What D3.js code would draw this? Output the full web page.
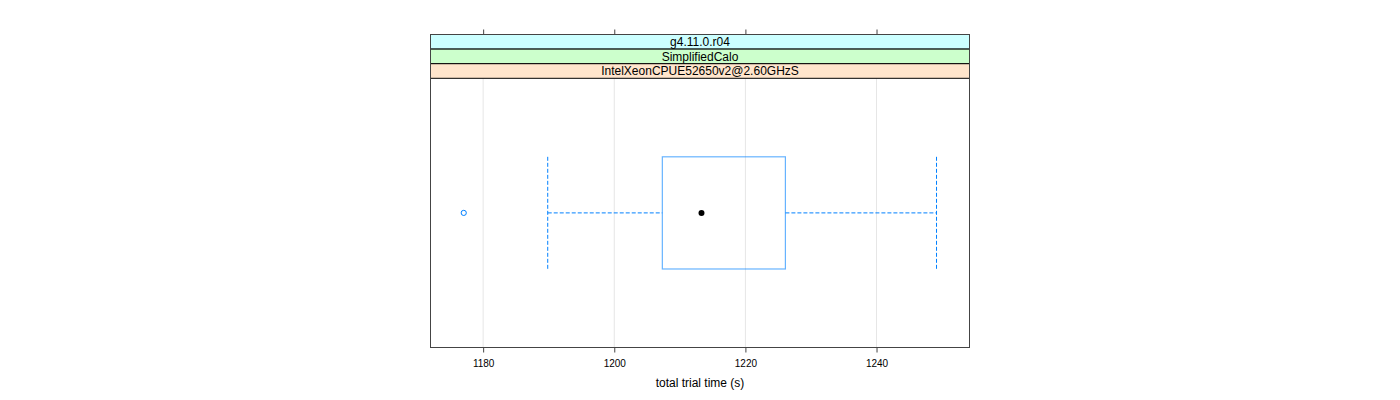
<!DOCTYPE html>
<html><head><meta charset="utf-8">
<script src="https://cdn.jsdelivr.net/npm/d3@7"></script>
<style>body{margin:0;background:#fff}svg{display:block}text{font-family:"Liberation Sans",Arial,sans-serif}</style>
</head><body>
<svg id="c" width="1400" height="400"></svg>
<script>
// data
const stripLabels = ["g4.11.0.r04", "SimplifiedCalo", "IntelXeonCPUE52650v2@2.60GHzS"];
const stripColors = ["#CCFFFF", "#CCFFCC", "#FFE5CC"];
const category = ["all"];
const lowerWhisker = [1189.85];
const q1 = [1207.33];
const median = [1213.3];
const q3 = [1226.1];
const upperWhisker = [1249.15];
const outliers = [1177.04];
const xTicks = [1180, 1200, 1220, 1240];
const xDomain = [1171.97, 1254.18];
const xLabel = "total trial time (s)";

(function () {
const svg = d3.select("#c");
const L = 430.5, R = 969.5, T = 34.5, B = 347.5;
const stripH = 14.6;
const bodyTop = T + stripH * stripLabels.length;
const x = d3.scaleLinear().domain(xDomain).range([L, R]);
const y = d3.scaleBand().domain(category).range([bodyTop, B]).paddingInner(0).paddingOuter(0.7);

// grid
svg.append("g").selectAll("line").data(xTicks).join("line")
  .attr("x1", d => x(d)).attr("x2", d => x(d)).attr("y1", bodyTop).attr("y2", B)
  .attr("stroke", "#e6e6e6").attr("stroke-width", 1);

// strips
stripLabels.forEach((s, i) => {
  const yy = T + i * stripH;
  svg.append("rect").attr("x", L).attr("y", yy).attr("width", R - L).attr("height", stripH)
    .attr("fill", stripColors[i]).attr("stroke", "#000").attr("stroke-width", 1);
  svg.append("text").attr("x", (L + R) / 2).attr("y", yy + stripH / 2 + 4.3)
    .attr("text-anchor", "middle").attr("font-size", 12).attr("fill", "#000").text(s);
});

// boxes
const g = svg.append("g");
category.forEach((c, i) => {
  const y0 = y(c), bh = y.bandwidth(), ym = y0 + bh / 2;
  g.append("line").attr("x1", x(lowerWhisker[i])).attr("x2", x(q1[i])).attr("y1", ym).attr("y2", ym)
    .attr("stroke", "#0080ff").attr("stroke-dasharray", "4,2").attr("stroke-width", 1);
  g.append("line").attr("x1", x(q3[i])).attr("x2", x(upperWhisker[i])).attr("y1", ym).attr("y2", ym)
    .attr("stroke", "#0080ff").attr("stroke-dasharray", "4,2").attr("stroke-width", 1);
  [lowerWhisker[i], upperWhisker[i]].forEach(v => {
    g.append("line").attr("x1", x(v)).attr("x2", x(v)).attr("y1", y0).attr("y2", y0 + bh)
      .attr("stroke", "#0080ff").attr("stroke-dasharray", "4,2").attr("stroke-width", 1);
  });
  g.append("rect").attr("x", x(q1[i])).attr("y", y0).attr("width", x(q3[i]) - x(q1[i])).attr("height", bh)
    .attr("fill", "none").attr("stroke", "#0080ff").attr("stroke-opacity", 0.6).attr("stroke-width", 1.2);
  g.append("circle").attr("cx", x(median[i])).attr("cy", ym).attr("r", 3).attr("fill", "#000");
  g.selectAll(null).data(outliers).join("circle")
    .attr("cx", d => x(d)).attr("cy", ym).attr("r", 2.6).attr("fill", "none")
    .attr("stroke", "#0080ff").attr("stroke-width", 1);
});

// frame
svg.append("rect").attr("x", L).attr("y", T).attr("width", R - L).attr("height", B - T)
  .attr("fill", "none").attr("stroke", "#444").attr("stroke-width", 1);

// axes
const bottomAxis = svg.append("g").attr("transform", `translate(0,${B})`)
  .call(d3.axisBottom(x).tickValues(xTicks).tickSize(5).tickPadding(7).tickFormat(d3.format("d")));
bottomAxis.select(".domain").remove();
bottomAxis.selectAll("line").attr("stroke", "#444");
bottomAxis.selectAll("text").attr("font-size", 10).attr("fill", "#000").attr("font-family", "Liberation Sans, Arial, sans-serif");
const topAxis = svg.append("g").attr("transform", `translate(0,${T})`)
  .call(d3.axisTop(x).tickValues(xTicks).tickSize(5).tickFormat(""));
topAxis.select(".domain").remove();
topAxis.selectAll("line").attr("stroke", "#444");

svg.append("text").attr("x", (L + R) / 2).attr("y", 387).attr("text-anchor", "middle")
  .attr("font-size", 12).attr("fill", "#000").text(xLabel);
})();
</script>
</body></html>
